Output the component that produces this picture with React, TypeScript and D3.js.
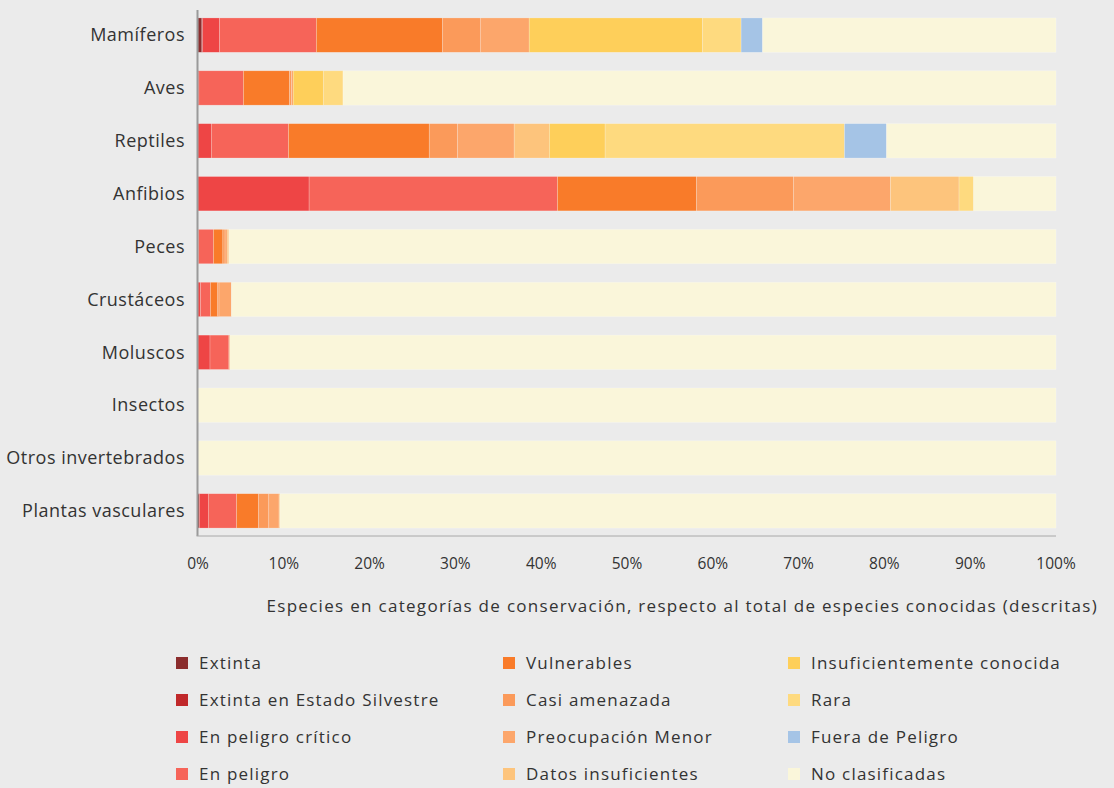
import React from "react";
import * as d3 from "d3";

// Groups of species (rows, top to bottom)
const categories = [
  "Mamíferos",
  "Aves",
  "Reptiles",
  "Anfibios",
  "Peces",
  "Crustáceos",
  "Moluscos",
  "Insectos",
  "Otros invertebrados",
  "Plantas vasculares",
];

// Share of known species in each conservation category (%), one value per group
const extinta = [0.45, 0, 0, 0, 0, 0, 0, 0, 0, 0.15];
const extintaSilvestre = [0.1, 0, 0, 0, 0, 0, 0, 0, 0, 0];
const peligroCritico = [1.95, 0.1, 1.55, 12.95, 0.05, 0.3, 1.4, 0, 0, 1.05];
const enPeligro = [11.3, 5.2, 9.0, 28.95, 1.75, 1.15, 2.2, 0, 0, 3.3];
const vulnerables = [14.7, 5.35, 16.4, 16.2, 1.1, 0.85, 0.1, 0, 0, 2.55];
const casiAmenazada = [4.4, 0.25, 3.3, 11.3, 0.25, 0.15, 0, 0, 0, 1.2];
const preocupacionMenor = [5.7, 0.2, 6.6, 11.3, 0.25, 1.45, 0, 0, 0, 1.2];
const datosInsuficientes = [0, 0, 4.1, 8.0, 0.2, 0, 0, 0, 0, 0.1];
const insuficientementeConocida = [20.2, 3.5, 6.5, 0, 0, 0, 0, 0, 0, 0];
const rara = [4.5, 2.3, 27.9, 1.7, 0, 0, 0, 0, 0, 0];
const fueraPeligro = [2.5, 0, 4.9, 0, 0, 0, 0, 0, 0, 0];
const noClasificadas = [34.2, 83.1, 19.75, 9.6, 96.4, 96.1, 96.3, 100, 100, 90.45];

const statusLabels = [
  "Extinta",
  "Extinta en Estado Silvestre",
  "En peligro crítico",
  "En peligro",
  "Vulnerables",
  "Casi amenazada",
  "Preocupación Menor",
  "Datos insuficientes",
  "Insuficientemente conocida",
  "Rara",
  "Fuera de Peligro",
  "No clasificadas",
];

const statusValues = [
  extinta,
  extintaSilvestre,
  peligroCritico,
  enPeligro,
  vulnerables,
  casiAmenazada,
  preocupacionMenor,
  datosInsuficientes,
  insuficientementeConocida,
  rara,
  fueraPeligro,
  noClasificadas,
];

const statusColors = [
  "#8b2d2d",
  "#c0282a",
  "#ee4545",
  "#f66459",
  "#f97b29",
  "#fb9a5a",
  "#fca66b",
  "#fdc47c",
  "#fecf5a",
  "#feda7f",
  "#a5c4e6",
  "#faf6da",
];

const xTicks = [0, 10, 20, 30, 40, 50, 60, 70, 80, 90, 100];

const W = 1114;
const H = 788;
const plot = { left: 198, right: 1056, top: 10, bottom: 536 };

const TEXT = "#333333";
const FONT = "'Open Sans', sans-serif";

export default function App() {
  const rows = categories.map((c, i) => {
    const r: Record<string, number | string> = { category: c };
    statusLabels.forEach((s, k) => {
      r[s] = statusValues[k][i];
    });
    return r;
  });

  const stacked = d3.stack<Record<string, number | string>>().keys(statusLabels)(rows as any);

  const x = d3.scaleLinear().domain([0, 100]).range([plot.left, plot.right]);
  const y = d3
    .scaleBand<string>()
    .domain(categories)
    .range([plot.top, plot.bottom])
    .paddingInner(0.35)
    .paddingOuter(0.15);

  const color = d3.scaleOrdinal<string, string>().domain(statusLabels).range(statusColors);

  const legendCols = [176, 503, 788];
  const legendRows = [663, 700, 737, 774];

  return (
    <svg
      width={W}
      height={H}
      style={{ position: "absolute", left: 0, top: 0, display: "block" }}
    >
      <rect x={0} y={0} width={W} height={H} fill="#ebebeb" />

      {/* stacked bars */}
      {stacked.map((layer) => (
        <g key={layer.key} fill={color(layer.key)}>
          {layer.map((d, i) => {
            const w = x(d[1]) - x(d[0]);
            if (w <= 0) return null;
            return (
              <rect
                key={i}
                x={x(d[0])}
                y={y(categories[i])}
                width={w}
                height={y.bandwidth()}
                stroke="rgba(255,255,255,0.35)"
                strokeWidth={0.6}
              />
            );
          })}
        </g>
      ))}

      {/* axes */}
      <line x1={plot.left - 0.5} x2={plot.left - 0.5} y1={plot.top} y2={plot.bottom} stroke="#9a9a9a" strokeWidth={2} />
      <line x1={plot.left - 1.5} x2={plot.right} y1={plot.bottom} y2={plot.bottom} stroke="#a8a8a8" strokeWidth={1} />

      {categories.map((c) => (
        <text
          key={c}
          x={185}
          y={(y(c) as number) + y.bandwidth() / 2}
          dy="0.35em"
          textAnchor="end"
          fontFamily={FONT}
          fontSize={18}
          letterSpacing={0.5}
          fill={TEXT}
        >
          {c}
        </text>
      ))}

      {xTicks.map((t) => (
        <text
          key={t}
          x={x(t)}
          y={569}
          textAnchor="middle"
          fontFamily={FONT}
          fontSize={15.5}
          fill={TEXT}
        >
          {t}%
        </text>
      ))}

      <text
        x={1098}
        y={612}
        textAnchor="end"
        fontFamily={FONT}
        fontSize={17}
        letterSpacing={1.3}
        fill={TEXT}
      >
        Especies en categorías de conservación, respecto al total de especies conocidas (descritas)
      </text>

      {/* legend: three columns of four */}
      {statusLabels.map((s, k) => {
        const cx = legendCols[Math.floor(k / 4)];
        const cy = legendRows[k % 4];
        return (
          <g key={s}>
            <rect x={cx} y={cy - 6} width={12} height={12} fill={color(s)} />
            <text
              x={cx + 23}
              y={cy}
              dy="0.35em"
              fontFamily={FONT}
              fontSize={17}
              letterSpacing={1.2}
              fill={TEXT}
            >
              {s}
            </text>
          </g>
        );
      })}
    </svg>
  );
}
